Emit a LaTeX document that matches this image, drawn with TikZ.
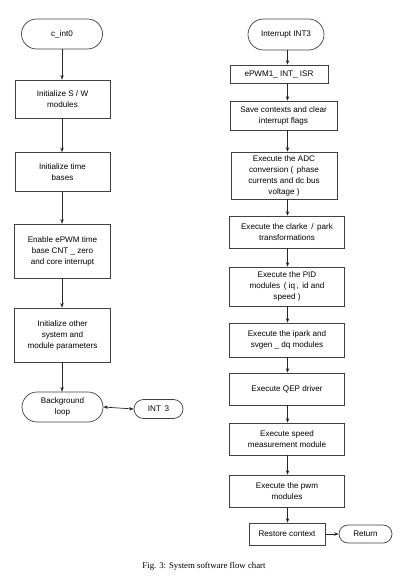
\documentclass[tikz,border=0pt]{standalone}
\usepackage{fontspec}
\setmainfont{Liberation Sans}
\newfontfamily\capfont{Liberation Serif}
\usetikzlibrary{shapes.misc,arrows.meta}
\tikzset{
  box/.style={draw=black!75, line width=0.7pt, rectangle, align=center, inner sep=1pt,
    font=\fontsize{8.1}{11}\selectfont},
  term/.style={draw=black!75, line width=0.7pt, rounded rectangle, align=center, inner sep=1pt,
    font=\fontsize{8.1}{11}\selectfont},
  arr/.style={draw=black!85, line width=0.7pt, -{Stealth[length=4.5pt,width=3.5pt]}},
  darr/.style={draw=black!85, line width=0.7pt, {Stealth[length=4.5pt,width=3.5pt]}-{Stealth[length=4.5pt,width=3.5pt]}}
}
\begin{document}
\begin{tikzpicture}[x=1pt,y=-1pt]
\useasboundingbox[fill=white] (0,0) rectangle (400,585);
% left column
\node[term, minimum width=83pt, minimum height=30pt] (cint) at (62,34) {c\_int0};
\node[box, minimum width=95pt, minimum height=38pt] (sw) at (62.5,99) {Initialize S / W\\modules};
\node[box, minimum width=95pt, minimum height=39pt] (tb) at (62.5,172) {Initialize time\\bases};
\node[box, minimum width=96pt, minimum height=54pt] (en) at (62.5,251) {Enable ePWM time\\base CNT \_ zero\\and core interrupt};
\node[box, minimum width=96pt, minimum height=54pt] (oth) at (62.5,335) {Initialize other\\system and\\module parameters};
\node[term, minimum width=83pt, minimum height=30pt] (bg) at (62.5,407) {Background\\loop};
\node[term, minimum width=51pt, minimum height=19pt] (int3) at (158.5,409) {INT \,3};
\coordinate (lx) at (62,0);
% right column
\node[term, minimum width=78pt, minimum height=31pt] (intr) at (286,34.5) {Interrupt INT3};
\node[box, minimum width=98pt, minimum height=18pt] (isr) at (279,74) {ePWM1\_ INT\_ ISR};
\node[box, minimum width=107pt, minimum height=29pt] (save) at (283.5,115.5) {Save contexts and clear\\interrupt flags};
\node[box, minimum width=106pt, minimum height=47pt] (adc) at (284,175.5) {Execute the ADC\\conversion ( \,phase\\currents and dc bus\\voltage )};
\node[box, minimum width=115pt, minimum height=32pt] (clarke) at (287,232) {Execute the clarke \,/ \,park\\transformations};
\node[box, minimum width=115pt, minimum height=39pt] (pid) at (287,286.5) {Execute the PID\\modules \,( iq\,, \,id and\\speed )};
\node[box, minimum width=115pt, minimum height=34pt] (ipark) at (287,340) {Execute the ipark and\\svgen \_ dq modules};
\node[box, minimum width=115pt, minimum height=32pt] (qep) at (287,389) {Execute QEP driver};
\node[box, minimum width=115pt, minimum height=32pt] (speed) at (287,439) {Execute speed\\measurement module};
\node[box, minimum width=115pt, minimum height=32pt] (pwm) at (287,491) {Execute the pwm\\modules};
\node[box, minimum width=76pt, minimum height=22pt] (rest) at (287,534) {Restore context};
\node[term, minimum width=55pt, minimum height=18pt] (ret) at (365.5,534) {Return};
\coordinate (rx) at (287.5,0);
% caption
\node[font=\capfont\fontsize{8.8}{10}\selectfont, inner sep=0pt] (cap) at (204,566) {Fig. 3: System software flow chart};
% left arrows
\draw[arr] (cint.south -| lx) -- (sw.north -| lx);
\draw[arr] (sw.south -| lx) -- (tb.north -| lx);
\draw[arr] (tb.south -| lx) -- (en.north -| lx);
\draw[arr] (en.south -| lx) -- (oth.north -| lx);
\draw[arr] (oth.south -| lx) -- (bg.north -| lx);
\draw[darr] (bg.east) -- (int3.west);
% right arrows
\draw[arr] (intr.south -| rx) -- (isr.north -| rx);
\draw[arr] (isr.south -| rx) -- (save.north -| rx);
\draw[arr] (save.south -| rx) -- (adc.north -| rx);
\draw[arr] (adc.south -| rx) -- (clarke.north -| rx);
\draw[arr] (clarke.south -| rx) -- (pid.north -| rx);
\draw[arr] (pid.south -| rx) -- (ipark.north -| rx);
\draw[arr] (ipark.south -| rx) -- (qep.north -| rx);
\draw[arr] (qep.south -| rx) -- (speed.north -| rx);
\draw[arr] (speed.south -| rx) -- (pwm.north -| rx);
\draw[arr] (pwm.south -| rx) -- (rest.north -| rx);
\draw[arr] (rest.east) -- (ret.west);
\end{tikzpicture}
\end{document}
